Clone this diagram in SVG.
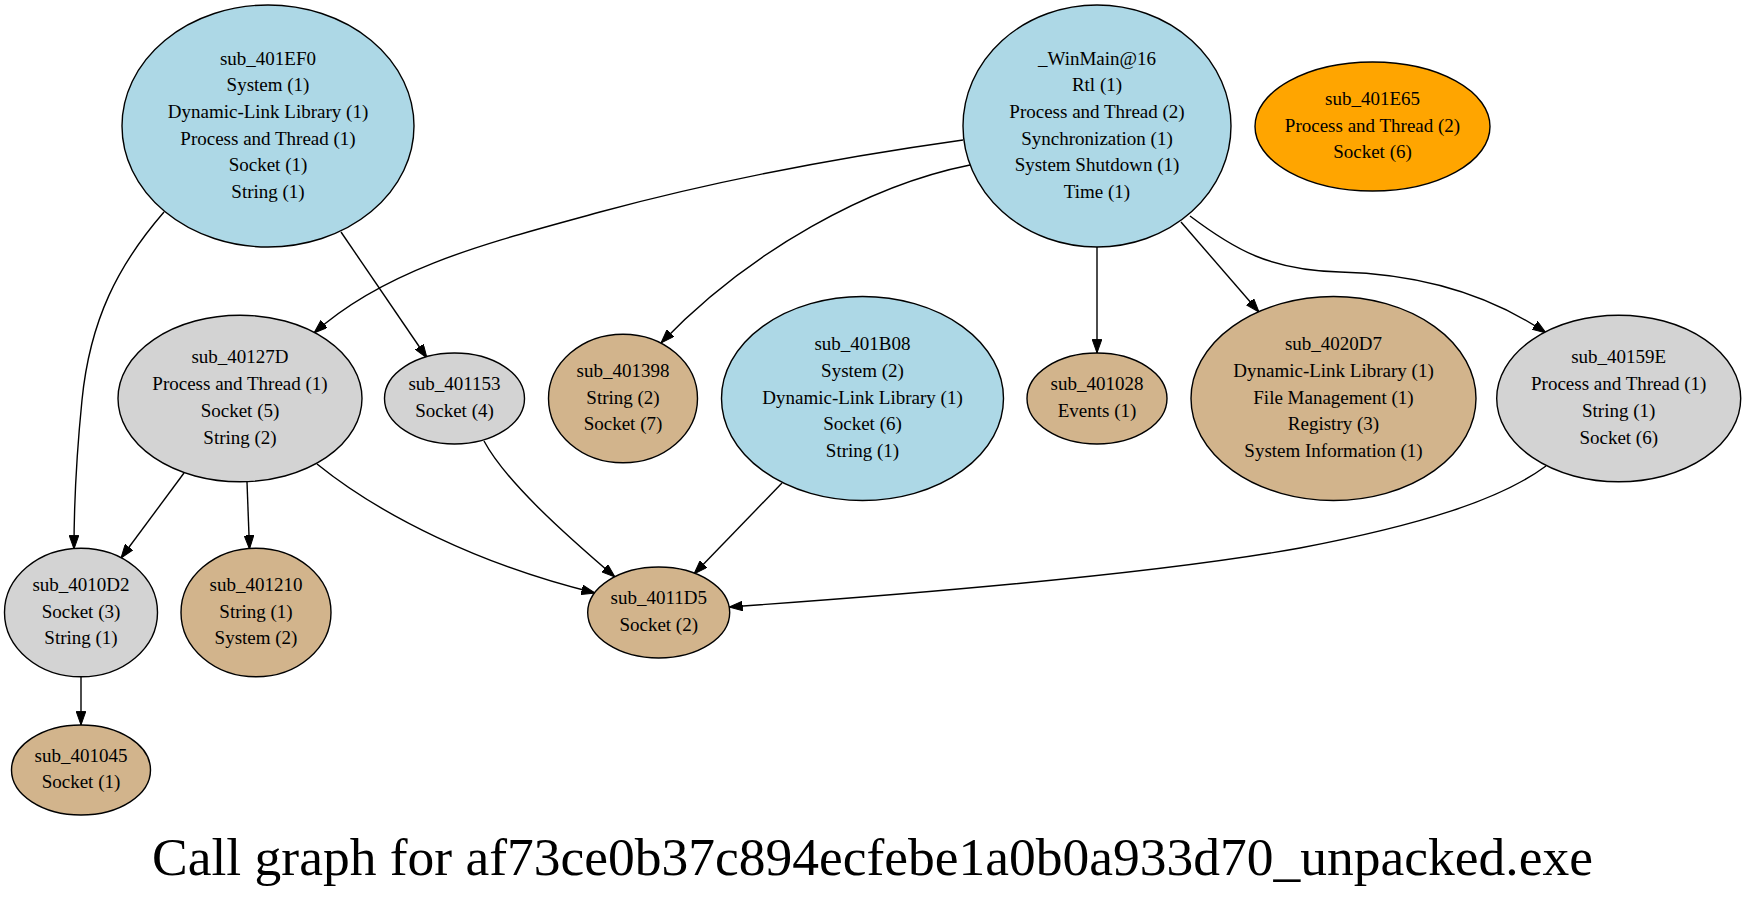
<svg xmlns="http://www.w3.org/2000/svg" width="1745" height="906" viewBox="0 0 1745 906">
<style>
.n ellipse{stroke:#000;stroke-width:1.4}
.blue{fill:#add8e6}
.gray{fill:#d3d3d3}
.tan{fill:#d2b48c}
.orange{fill:#ffa500}
text{font-family:"Liberation Serif","Times New Roman",serif;font-size:19px;fill:#000;text-anchor:middle}
.title{font-size:53.5px}
#edges path{fill:none;stroke:#000;stroke-width:1.4;marker-end:url(#arr)}
</style>
<defs>
<marker id="arr" markerUnits="userSpaceOnUse" markerWidth="14" markerHeight="10" refX="13.6" refY="4.8" orient="auto">
<path d="M0,0 L13.6,4.8 L0,9.6 z" fill="#000" stroke="#000" stroke-width="1"/>
</marker>
</defs>
<rect width="1745" height="906" fill="#fff"/>
<g id="edges">
<path d="M164,212 C118,265 90,320 82,400 C77,450 74,500 74,549"/>
<path d="M341,232 L427,358"/>
<path d="M963,140 C820,160 700,185 600,212 C500,240 390,265 314,333"/>
<path d="M970,165 C870,185 750,250 661,343"/>
<path d="M1097,247 L1097,353"/>
<path d="M1181,222 L1259,312"/>
<path d="M1190,216 C1235,250 1270,270 1340,272 C1420,274 1490,295 1546,333"/>
<path d="M184,473 L121,558"/>
<path d="M247,482 L249.5,549"/>
<path d="M317,464 C380,515 480,565 595,593"/>
<path d="M484,441 C505,480 560,530 615,577"/>
<path d="M782,483 L694,574"/>
<path d="M1546,466 C1500,500 1420,525 1300,548 C1150,575 900,595 729,607"/>
<path d="M81,677 L81,725"/>
</g>
<g id="sub_401EF0" class="n">
<ellipse class="blue" cx="268" cy="126" rx="146" ry="121"/>
<text x="268" y="64.5">sub_401EF0</text>
<text x="268" y="91.2">System (1)</text>
<text x="268" y="117.9">Dynamic-Link Library (1)</text>
<text x="268" y="144.6">Process and Thread (1)</text>
<text x="268" y="171.3">Socket (1)</text>
<text x="268" y="198">String (1)</text>
</g>
<g id="WinMain" class="n">
<ellipse class="blue" cx="1097" cy="126" rx="134" ry="121"/>
<text x="1097" y="64.5">_WinMain@16</text>
<text x="1097" y="91.2">Rtl (1)</text>
<text x="1097" y="117.9">Process and Thread (2)</text>
<text x="1097" y="144.6">Synchronization (1)</text>
<text x="1097" y="171.3">System Shutdown (1)</text>
<text x="1097" y="198">Time (1)</text>
</g>
<g id="sub_401E65" class="n">
<ellipse class="orange" cx="1372.5" cy="126.5" rx="117.5" ry="64.5"/>
<text x="1372.5" y="104.8">sub_401E65</text>
<text x="1372.5" y="131.5">Process and Thread (2)</text>
<text x="1372.5" y="158.2">Socket (6)</text>
</g>
<g id="sub_40127D" class="n">
<ellipse class="gray" cx="240" cy="398.5" rx="122" ry="83.3"/>
<text x="240" y="363.4">sub_40127D</text>
<text x="240" y="390.1">Process and Thread (1)</text>
<text x="240" y="416.8">Socket (5)</text>
<text x="240" y="443.5">String (2)</text>
</g>
<g id="sub_401153" class="n">
<ellipse class="gray" cx="454.5" cy="398.5" rx="70" ry="45.5"/>
<text x="454.5" y="390.2">sub_401153</text>
<text x="454.5" y="416.9">Socket (4)</text>
</g>
<g id="sub_401398" class="n">
<ellipse class="tan" cx="623" cy="398.5" rx="74.5" ry="64.3"/>
<text x="623" y="376.8">sub_401398</text>
<text x="623" y="403.5">String (2)</text>
<text x="623" y="430.2">Socket (7)</text>
</g>
<g id="sub_401B08" class="n">
<ellipse class="blue" cx="862.5" cy="398.5" rx="141" ry="102"/>
<text x="862.5" y="350.1">sub_401B08</text>
<text x="862.5" y="376.8">System (2)</text>
<text x="862.5" y="403.5">Dynamic-Link Library (1)</text>
<text x="862.5" y="430.2">Socket (6)</text>
<text x="862.5" y="456.9">String (1)</text>
</g>
<g id="sub_401028" class="n">
<ellipse class="tan" cx="1097" cy="398.5" rx="70" ry="45.5"/>
<text x="1097" y="390.2">sub_401028</text>
<text x="1097" y="416.9">Events (1)</text>
</g>
<g id="sub_4020D7" class="n">
<ellipse class="tan" cx="1333.5" cy="398.5" rx="142.5" ry="102"/>
<text x="1333.5" y="350.1">sub_4020D7</text>
<text x="1333.5" y="376.8">Dynamic-Link Library (1)</text>
<text x="1333.5" y="403.5">File Management (1)</text>
<text x="1333.5" y="430.2">Registry (3)</text>
<text x="1333.5" y="456.9">System Information (1)</text>
</g>
<g id="sub_40159E" class="n">
<ellipse class="gray" cx="1618.7" cy="398.5" rx="122" ry="83.3"/>
<text x="1618.7" y="363.4">sub_40159E</text>
<text x="1618.7" y="390.1">Process and Thread (1)</text>
<text x="1618.7" y="416.8">String (1)</text>
<text x="1618.7" y="443.5">Socket (6)</text>
</g>
<g id="sub_4010D2" class="n">
<ellipse class="gray" cx="81" cy="612.5" rx="76.5" ry="64.3"/>
<text x="81" y="590.8">sub_4010D2</text>
<text x="81" y="617.5">Socket (3)</text>
<text x="81" y="644.2">String (1)</text>
</g>
<g id="sub_401210" class="n">
<ellipse class="tan" cx="256" cy="612.5" rx="75" ry="64.3"/>
<text x="256" y="590.8">sub_401210</text>
<text x="256" y="617.5">String (1)</text>
<text x="256" y="644.2">System (2)</text>
</g>
<g id="sub_4011D5" class="n">
<ellipse class="tan" cx="658.7" cy="612.5" rx="71" ry="45.5"/>
<text x="658.7" y="604.2">sub_4011D5</text>
<text x="658.7" y="630.9">Socket (2)</text>
</g>
<g id="sub_401045" class="n">
<ellipse class="tan" cx="81" cy="770" rx="69.5" ry="45"/>
<text x="81" y="761.7">sub_401045</text>
<text x="81" y="788.4">Socket (1)</text>
</g>
<text class="title" x="872.5" y="875">Call graph for af73ce0b37c894ecfebe1a0b0a933d70_unpacked.exe</text>
</svg>
